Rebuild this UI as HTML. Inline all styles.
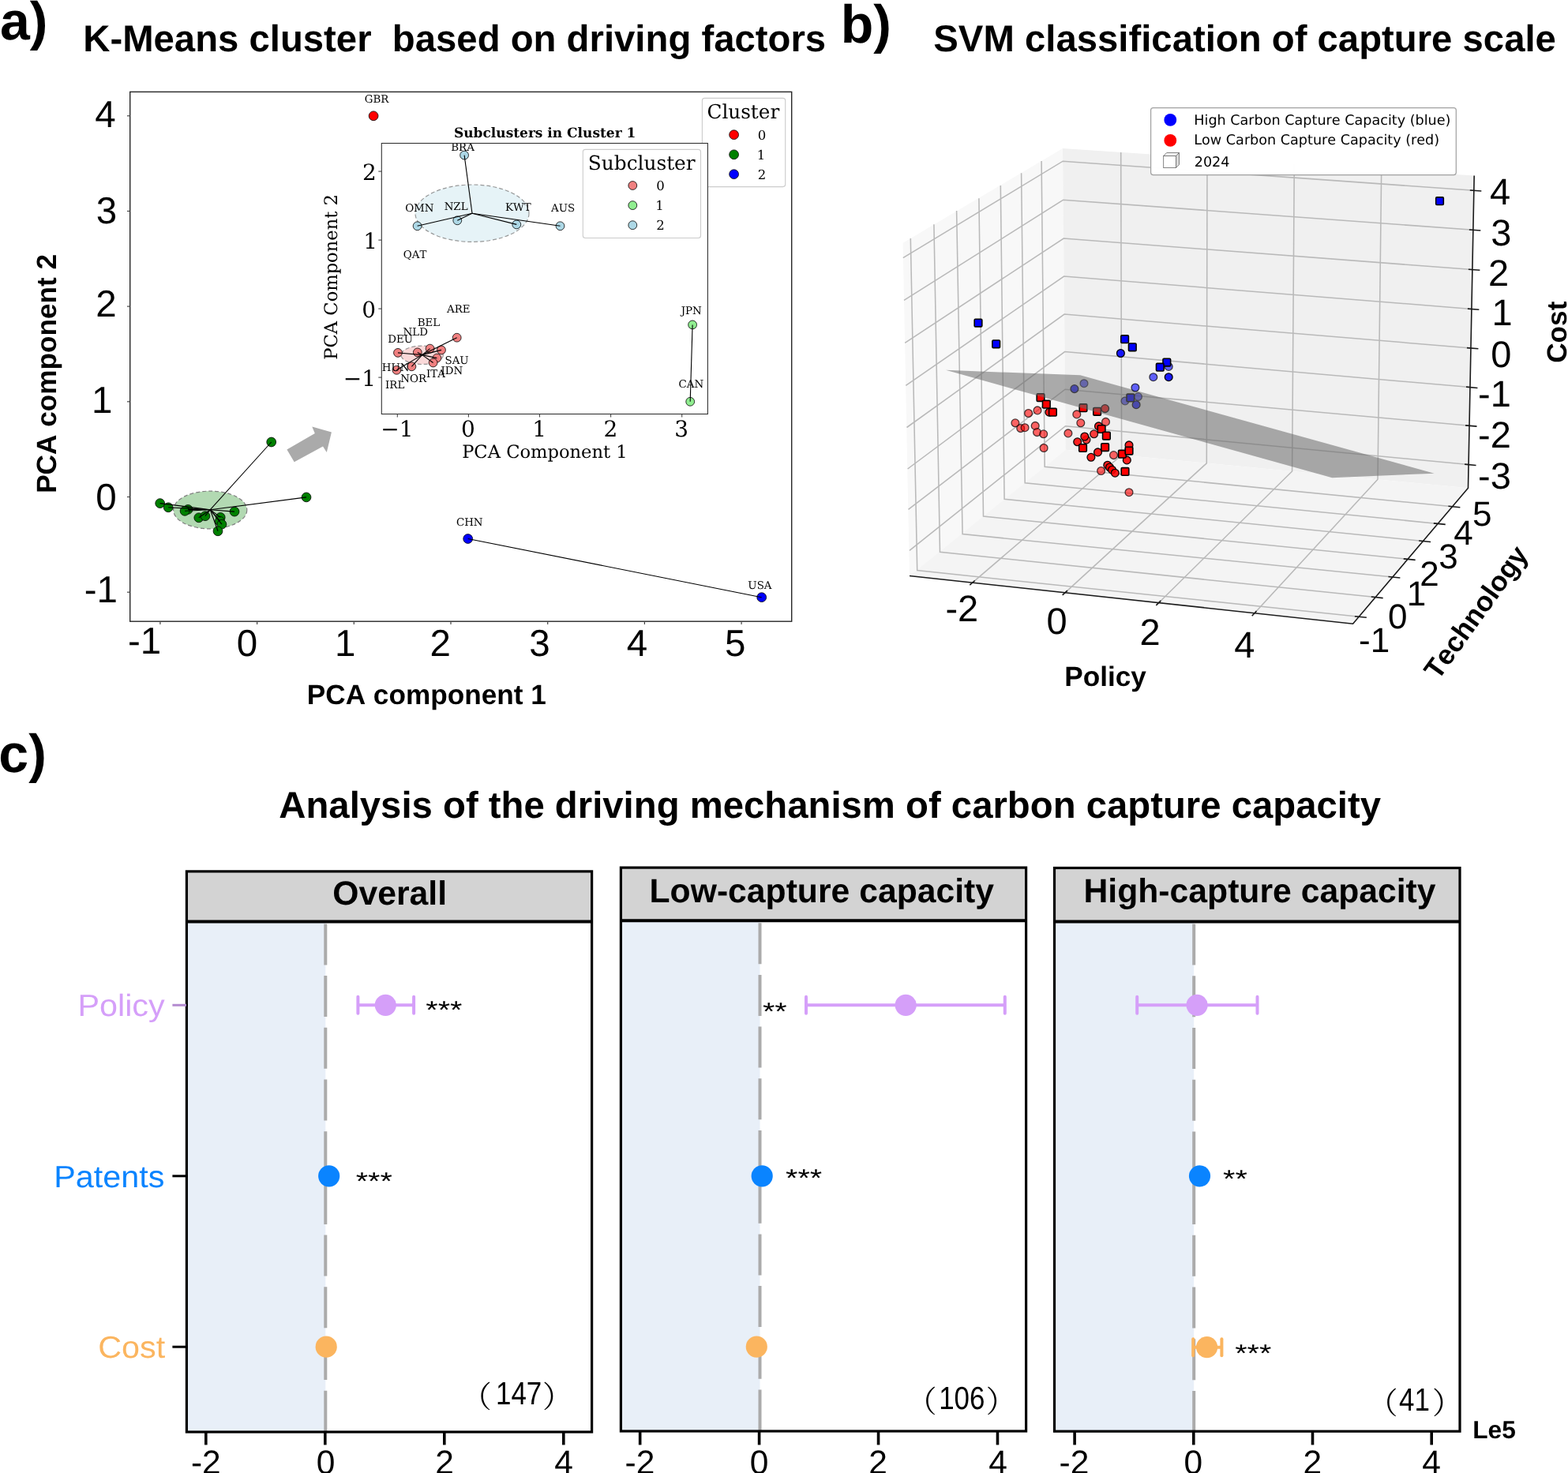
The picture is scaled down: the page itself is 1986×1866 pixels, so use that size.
<!DOCTYPE html>
<html><head><meta charset="utf-8"><title>Figure</title>
<style>html,body{margin:0;padding:0;background:#fff;width:1986px;height:1866px;overflow:hidden}</style>
</head><body>
<svg width="1986" height="1866" viewBox="0 0 1986 1866" style="display:block;font-kerning:none;text-rendering:geometricPrecision">
<rect width="1986" height="1866" fill="#fff"/>
<text x="0.01" y="50" style='font-family:"Liberation Sans", Arial, sans-serif;font-size:68px;font-weight:bold;white-space:pre' fill="#000">a)</text>
<text x="105.24" y="64.9" style='font-family:"Liberation Sans", Arial, sans-serif;font-size:47.3px;font-weight:bold;white-space:pre' fill="#000">K-Means cluster  based on driving factors</text>
<rect x="164.7" y="116.4" width="838.0" height="670.8000000000001" fill="#fff" stroke="none"/>
<ellipse cx="266.2" cy="646" rx="46.6" ry="23.9" fill="#008000" fill-opacity="0.3" stroke="#808080" stroke-width="1.2" stroke-dasharray="5,3"/>
<circle cx="343.7" cy="560" r="5.9" fill="#008000" stroke="#000" stroke-width="0.8"/>
<circle cx="388" cy="629.9" r="5.9" fill="#008000" stroke="#000" stroke-width="0.8"/>
<circle cx="202.7" cy="637.6" r="5.9" fill="#008000" stroke="#000" stroke-width="0.8"/>
<circle cx="213.2" cy="642.8" r="5.9" fill="#008000" stroke="#000" stroke-width="0.8"/>
<circle cx="238.1" cy="645.4" r="5.9" fill="#008000" stroke="#000" stroke-width="0.8"/>
<circle cx="234.1" cy="647.3" r="5.9" fill="#008000" stroke="#000" stroke-width="0.8"/>
<circle cx="251.8" cy="655.8" r="5.9" fill="#008000" stroke="#000" stroke-width="0.8"/>
<circle cx="259.9" cy="653.7" r="5.9" fill="#008000" stroke="#000" stroke-width="0.8"/>
<circle cx="297" cy="648.1" r="5.9" fill="#008000" stroke="#000" stroke-width="0.8"/>
<circle cx="279.2" cy="655.4" r="5.9" fill="#008000" stroke="#000" stroke-width="0.8"/>
<circle cx="278.4" cy="660.2" r="5.9" fill="#008000" stroke="#000" stroke-width="0.8"/>
<circle cx="280.9" cy="664.2" r="5.9" fill="#008000" stroke="#000" stroke-width="0.8"/>
<circle cx="276" cy="672.8" r="5.9" fill="#008000" stroke="#000" stroke-width="0.8"/>
<line x1="266.3" y1="645.7" x2="343.7" y2="560" stroke="#000" stroke-width="1.1"/>
<line x1="266.3" y1="645.7" x2="388" y2="629.9" stroke="#000" stroke-width="1.1"/>
<line x1="266.3" y1="645.7" x2="202.7" y2="637.6" stroke="#000" stroke-width="1.1"/>
<line x1="266.3" y1="645.7" x2="213.2" y2="642.8" stroke="#000" stroke-width="1.1"/>
<line x1="266.3" y1="645.7" x2="238.1" y2="645.4" stroke="#000" stroke-width="1.1"/>
<line x1="266.3" y1="645.7" x2="234.1" y2="647.3" stroke="#000" stroke-width="1.1"/>
<line x1="266.3" y1="645.7" x2="251.8" y2="655.8" stroke="#000" stroke-width="1.1"/>
<line x1="266.3" y1="645.7" x2="259.9" y2="653.7" stroke="#000" stroke-width="1.1"/>
<line x1="266.3" y1="645.7" x2="297" y2="648.1" stroke="#000" stroke-width="1.1"/>
<line x1="266.3" y1="645.7" x2="279.2" y2="655.4" stroke="#000" stroke-width="1.1"/>
<line x1="266.3" y1="645.7" x2="278.4" y2="660.2" stroke="#000" stroke-width="1.1"/>
<line x1="266.3" y1="645.7" x2="280.9" y2="664.2" stroke="#000" stroke-width="1.1"/>
<line x1="266.3" y1="645.7" x2="276" y2="672.8" stroke="#000" stroke-width="1.1"/>
<circle cx="592.7" cy="682.5" r="5.9" fill="#0000ff" stroke="#000" stroke-width="0.8"/>
<circle cx="964.7" cy="756.7" r="5.9" fill="#0000ff" stroke="#000" stroke-width="0.8"/>
<line x1="592.7" y1="682.5" x2="964.7" y2="756.7" stroke="#000" stroke-width="1.1"/>
<circle cx="473.1" cy="146.8" r="5.9" fill="#ff0000" stroke="#000" stroke-width="0.8"/>
<text x="461.75" y="130" style='font-family:"DejaVu Serif", serif;font-size:13.4px;font-weight:normal;white-space:pre' fill="#000">GBR</text>
<text x="577.95" y="666.1" style='font-family:"DejaVu Serif", serif;font-size:13.4px;font-weight:normal;white-space:pre' fill="#000">CHN</text>
<text x="947.37" y="745.6" style='font-family:"DejaVu Serif", serif;font-size:13.4px;font-weight:normal;white-space:pre' fill="#000">USA</text>
<path d="M372.7,585.3 L363.4,569.6 L398.8,549 L395.3,540.6 L419.9,547.4 L413.8,572.9 L409,565.4 Z" fill="#aaaaaa" stroke="none" stroke-width="1"/>
<rect x="164.7" y="116.4" width="838.0" height="670.8000000000001" fill="none" stroke="#262626" stroke-width="1.4"/>
<line x1="161" y1="146.78" x2="164.7" y2="146.78" stroke="#444" stroke-width="1.2"/>
<line x1="161" y1="267.46" x2="164.7" y2="267.46" stroke="#444" stroke-width="1.2"/>
<line x1="161" y1="388.14" x2="164.7" y2="388.14" stroke="#444" stroke-width="1.2"/>
<line x1="161" y1="508.82" x2="164.7" y2="508.82" stroke="#444" stroke-width="1.2"/>
<line x1="161" y1="629.5" x2="164.7" y2="629.5" stroke="#444" stroke-width="1.2"/>
<line x1="161" y1="750.18" x2="164.7" y2="750.18" stroke="#444" stroke-width="1.2"/>
<line x1="202.9" y1="787.2" x2="202.9" y2="791" stroke="#444" stroke-width="1.2"/>
<line x1="325.6" y1="787.2" x2="325.6" y2="791" stroke="#444" stroke-width="1.2"/>
<line x1="448.3" y1="787.2" x2="448.3" y2="791" stroke="#444" stroke-width="1.2"/>
<line x1="571" y1="787.2" x2="571" y2="791" stroke="#444" stroke-width="1.2"/>
<line x1="693.7" y1="787.2" x2="693.7" y2="791" stroke="#444" stroke-width="1.2"/>
<line x1="816.4" y1="787.2" x2="816.4" y2="791" stroke="#444" stroke-width="1.2"/>
<line x1="939.1" y1="787.2" x2="939.1" y2="791" stroke="#444" stroke-width="1.2"/>
<text x="120.27" y="160.88" style='font-family:"Liberation Sans", Arial, sans-serif;font-size:47.5px;font-weight:normal;white-space:pre' fill="#000">4</text>
<text x="121.77" y="283.47" style='font-family:"Liberation Sans", Arial, sans-serif;font-size:47.5px;font-weight:normal;white-space:pre' fill="#000">3</text>
<text x="121.17" y="401.47" style='font-family:"Liberation Sans", Arial, sans-serif;font-size:47.5px;font-weight:normal;white-space:pre' fill="#000">2</text>
<text x="116.1" y="523.08" style='font-family:"Liberation Sans", Arial, sans-serif;font-size:47.5px;font-weight:normal;white-space:pre' fill="#000">1</text>
<text x="121.24" y="645.67" style='font-family:"Liberation Sans", Arial, sans-serif;font-size:47.5px;font-weight:normal;white-space:pre' fill="#000">0</text>
<text x="106.78" y="762.68" style='font-family:"Liberation Sans", Arial, sans-serif;font-size:47.5px;font-weight:normal;white-space:pre' fill="#000">-1</text>
<text x="161.99" y="827.98" style='font-family:"Liberation Sans", Arial, sans-serif;font-size:47.5px;font-weight:normal;white-space:pre' fill="#000">-1</text>
<text x="299.74" y="831.07" style='font-family:"Liberation Sans", Arial, sans-serif;font-size:47.5px;font-weight:normal;white-space:pre' fill="#000">0</text>
<text x="423.98" y="830.58" style='font-family:"Liberation Sans", Arial, sans-serif;font-size:47.5px;font-weight:normal;white-space:pre' fill="#000">1</text>
<text x="544.61" y="831.07" style='font-family:"Liberation Sans", Arial, sans-serif;font-size:47.5px;font-weight:normal;white-space:pre' fill="#000">2</text>
<text x="670.29" y="831.07" style='font-family:"Liberation Sans", Arial, sans-serif;font-size:47.5px;font-weight:normal;white-space:pre' fill="#000">3</text>
<text x="793.81" y="830.58" style='font-family:"Liberation Sans", Arial, sans-serif;font-size:47.5px;font-weight:normal;white-space:pre' fill="#000">4</text>
<text x="918.1" y="830.58" style='font-family:"Liberation Sans", Arial, sans-serif;font-size:47.5px;font-weight:normal;white-space:pre' fill="#000">5</text>
<text x="388.75" y="891.9" style='font-family:"Liberation Sans", Arial, sans-serif;font-size:35.2px;font-weight:bold;white-space:pre' fill="#000">PCA component 1</text>
<text x="0" y="0" text-anchor="start" transform="translate(71.3,624.85) rotate(-90)" style='font-family:"Liberation Sans", Arial, sans-serif;font-size:35.2px;font-weight:bold;white-space:pre' fill="#000">PCA component 2</text>
<rect x="889.4" y="124.4" width="105.3" height="112.2" rx="3" fill="#fff" fill-opacity="0.8" stroke="#cccccc" stroke-width="1.1"/>
<text x="895.51" y="150.1" style='font-family:"DejaVu Serif", serif;font-size:24.7px;font-weight:normal;white-space:pre' fill="#000">Cluster</text>
<circle cx="929.6" cy="170.7" r="5.9" fill="#ff0000" stroke="#000" stroke-width="0.8"/>
<text x="959.71" y="176.71" style='font-family:"DejaVu Serif", serif;font-size:16.5px;font-weight:normal;white-space:pre' fill="#000">0</text>
<circle cx="929.6" cy="195.8" r="5.9" fill="#008000" stroke="#000" stroke-width="0.8"/>
<text x="958.79" y="201.92" style='font-family:"DejaVu Serif", serif;font-size:16.5px;font-weight:normal;white-space:pre' fill="#000">1</text>
<circle cx="929.6" cy="220.7" r="5.9" fill="#0000ff" stroke="#000" stroke-width="0.8"/>
<text x="959.68" y="226.82" style='font-family:"DejaVu Serif", serif;font-size:16.5px;font-weight:normal;white-space:pre' fill="#000">2</text>
<rect x="483.3" y="181.5" width="413.09999999999997" height="343.0" fill="#fff" stroke="none"/>
<ellipse cx="598" cy="270.2" rx="72" ry="36.2" fill="#add8e6" fill-opacity="0.3" stroke="#808080" stroke-opacity="0.8" stroke-width="1.2" stroke-dasharray="5,3"/>
<ellipse cx="534.7" cy="449.8" rx="26.7" ry="11.7" fill="#f08080" fill-opacity="0.3" stroke="#808080" stroke-opacity="0.8" stroke-width="1.2" stroke-dasharray="5,3"/>
<circle cx="504" cy="446.9" r="5.4" fill="#f08080" stroke="#000" stroke-width="0.8"/>
<circle cx="528.8" cy="446.4" r="5.4" fill="#f08080" stroke="#000" stroke-width="0.8"/>
<circle cx="544.6" cy="441.6" r="5.4" fill="#f08080" stroke="#000" stroke-width="0.8"/>
<circle cx="559" cy="443.4" r="5.4" fill="#f08080" stroke="#000" stroke-width="0.8"/>
<circle cx="553.4" cy="453.6" r="5.4" fill="#f08080" stroke="#000" stroke-width="0.8"/>
<circle cx="548.6" cy="459.5" r="5.4" fill="#f08080" stroke="#000" stroke-width="0.8"/>
<circle cx="521.4" cy="464.3" r="5.4" fill="#f08080" stroke="#000" stroke-width="0.8"/>
<circle cx="502.4" cy="468.8" r="5.4" fill="#f08080" stroke="#000" stroke-width="0.8"/>
<circle cx="578.7" cy="427.7" r="5.4" fill="#f08080" stroke="#000" stroke-width="0.8"/>
<circle cx="877.1" cy="411.4" r="5.4" fill="#90ee90" stroke="#000" stroke-width="0.8"/>
<circle cx="874.2" cy="508.8" r="5.4" fill="#90ee90" stroke="#000" stroke-width="0.8"/>
<circle cx="588.1" cy="196.6" r="5.4" fill="#add8e6" stroke="#000" stroke-width="0.8"/>
<circle cx="528.6" cy="286.3" r="5.4" fill="#add8e6" stroke="#000" stroke-width="0.8"/>
<circle cx="579.3" cy="279.3" r="5.4" fill="#add8e6" stroke="#000" stroke-width="0.8"/>
<circle cx="654.3" cy="284.4" r="5.4" fill="#add8e6" stroke="#000" stroke-width="0.8"/>
<circle cx="709.5" cy="286.3" r="5.4" fill="#add8e6" stroke="#000" stroke-width="0.8"/>
<line x1="598" y1="270.2" x2="588.1" y2="196.6" stroke="#000" stroke-width="1.1"/>
<line x1="598" y1="270.2" x2="528.6" y2="286.3" stroke="#000" stroke-width="1.1"/>
<line x1="598" y1="270.2" x2="579.3" y2="279.3" stroke="#000" stroke-width="1.1"/>
<line x1="598" y1="270.2" x2="654.3" y2="284.4" stroke="#000" stroke-width="1.1"/>
<line x1="598" y1="270.2" x2="709.5" y2="286.3" stroke="#000" stroke-width="1.1"/>
<line x1="534.7" y1="449.6" x2="504" y2="446.9" stroke="#000" stroke-width="1.1"/>
<line x1="534.7" y1="449.6" x2="528.8" y2="446.4" stroke="#000" stroke-width="1.1"/>
<line x1="534.7" y1="449.6" x2="544.6" y2="441.6" stroke="#000" stroke-width="1.1"/>
<line x1="534.7" y1="449.6" x2="559" y2="443.4" stroke="#000" stroke-width="1.1"/>
<line x1="534.7" y1="449.6" x2="553.4" y2="453.6" stroke="#000" stroke-width="1.1"/>
<line x1="534.7" y1="449.6" x2="548.6" y2="459.5" stroke="#000" stroke-width="1.1"/>
<line x1="534.7" y1="449.6" x2="521.4" y2="464.3" stroke="#000" stroke-width="1.1"/>
<line x1="534.7" y1="449.6" x2="502.4" y2="468.8" stroke="#000" stroke-width="1.1"/>
<line x1="534.7" y1="449.6" x2="578.7" y2="427.7" stroke="#000" stroke-width="1.1"/>
<line x1="877.1" y1="411.4" x2="874.2" y2="508.8" stroke="#000" stroke-width="1.1"/>
<text x="571.26" y="190.7" style='font-family:"DejaVu Serif", serif;font-size:13.4px;font-weight:normal;white-space:pre' fill="#000">BRA</text>
<text x="513.15" y="268.1" style='font-family:"DejaVu Serif", serif;font-size:13.4px;font-weight:normal;white-space:pre' fill="#000">OMN</text>
<text x="562.65" y="266" style='font-family:"DejaVu Serif", serif;font-size:13.4px;font-weight:normal;white-space:pre' fill="#000">NZL</text>
<text x="639.96" y="266.8" style='font-family:"DejaVu Serif", serif;font-size:13.4px;font-weight:normal;white-space:pre' fill="#000">KWT</text>
<text x="698.08" y="267.6" style='font-family:"DejaVu Serif", serif;font-size:13.4px;font-weight:normal;white-space:pre' fill="#000">AUS</text>
<text x="510.75" y="326.8" style='font-family:"DejaVu Serif", serif;font-size:13.4px;font-weight:normal;white-space:pre' fill="#000">QAT</text>
<text x="566.08" y="396.2" style='font-family:"DejaVu Serif", serif;font-size:13.4px;font-weight:normal;white-space:pre' fill="#000">ARE</text>
<text x="528.66" y="412.8" style='font-family:"DejaVu Serif", serif;font-size:13.4px;font-weight:normal;white-space:pre' fill="#000">BEL</text>
<text x="510.55" y="424.8" style='font-family:"DejaVu Serif", serif;font-size:13.4px;font-weight:normal;white-space:pre' fill="#000">NLD</text>
<text x="491.26" y="434.1" style='font-family:"DejaVu Serif", serif;font-size:13.4px;font-weight:normal;white-space:pre' fill="#000">DEU</text>
<text x="563.47" y="460.8" style='font-family:"DejaVu Serif", serif;font-size:13.4px;font-weight:normal;white-space:pre' fill="#000">SAU</text>
<text x="483.76" y="470.1" style='font-family:"DejaVu Serif", serif;font-size:13.4px;font-weight:normal;white-space:pre' fill="#000">HUN</text>
<text x="558.56" y="474.1" style='font-family:"DejaVu Serif", serif;font-size:13.4px;font-weight:normal;white-space:pre' fill="#000">IDN</text>
<text x="540.06" y="477.6" style='font-family:"DejaVu Serif", serif;font-size:13.4px;font-weight:normal;white-space:pre' fill="#000">ITA</text>
<text x="507.35" y="483.7" style='font-family:"DejaVu Serif", serif;font-size:13.4px;font-weight:normal;white-space:pre' fill="#000">NOR</text>
<text x="488.06" y="491.7" style='font-family:"DejaVu Serif", serif;font-size:13.4px;font-weight:normal;white-space:pre' fill="#000">IRL</text>
<text x="862.73" y="397.5" style='font-family:"DejaVu Serif", serif;font-size:13.4px;font-weight:normal;white-space:pre' fill="#000">JPN</text>
<text x="859.55" y="491" style='font-family:"DejaVu Serif", serif;font-size:13.4px;font-weight:normal;white-space:pre' fill="#000">CAN</text>
<rect x="483.3" y="181.5" width="413.09999999999997" height="343.0" fill="none" stroke="#333" stroke-width="1.1"/>
<line x1="503.3" y1="524.5" x2="503.3" y2="528.5" stroke="#444" stroke-width="1.1"/>
<text x="482.37" y="553.08" style='font-family:"DejaVu Serif", serif;font-size:28px;font-weight:normal;white-space:pre' fill="#000">−1</text>
<line x1="593.4" y1="524.5" x2="593.4" y2="528.5" stroke="#444" stroke-width="1.1"/>
<text x="584" y="553.08" style='font-family:"DejaVu Serif", serif;font-size:28px;font-weight:normal;white-space:pre' fill="#000">0</text>
<line x1="683.5" y1="524.5" x2="683.5" y2="528.5" stroke="#444" stroke-width="1.1"/>
<text x="674.37" y="553.08" style='font-family:"DejaVu Serif", serif;font-size:28px;font-weight:normal;white-space:pre' fill="#000">1</text>
<line x1="773.6" y1="524.5" x2="773.6" y2="528.5" stroke="#444" stroke-width="1.1"/>
<text x="764.62" y="553.08" style='font-family:"DejaVu Serif", serif;font-size:28px;font-weight:normal;white-space:pre' fill="#000">2</text>
<line x1="863.7" y1="524.5" x2="863.7" y2="528.5" stroke="#444" stroke-width="1.1"/>
<text x="854.27" y="553.08" style='font-family:"DejaVu Serif", serif;font-size:28px;font-weight:normal;white-space:pre' fill="#000">3</text>
<line x1="479.3" y1="217.1" x2="483.3" y2="217.1" stroke="#444" stroke-width="1.1"/>
<text x="459.03" y="228.09" style='font-family:"DejaVu Serif", serif;font-size:28px;font-weight:normal;white-space:pre' fill="#000">2</text>
<line x1="479.3" y1="304.1" x2="483.3" y2="304.1" stroke="#444" stroke-width="1.1"/>
<text x="460.26" y="315.09" style='font-family:"DejaVu Serif", serif;font-size:28px;font-weight:normal;white-space:pre' fill="#000">1</text>
<line x1="479.3" y1="391.1" x2="483.3" y2="391.1" stroke="#444" stroke-width="1.1"/>
<text x="458.14" y="401.89" style='font-family:"DejaVu Serif", serif;font-size:28px;font-weight:normal;white-space:pre' fill="#000">0</text>
<line x1="479.3" y1="478.1" x2="483.3" y2="478.1" stroke="#444" stroke-width="1.1"/>
<text x="434.7" y="489.09" style='font-family:"DejaVu Serif", serif;font-size:28px;font-weight:normal;white-space:pre' fill="#000">−1</text>
<text x="585.15" y="580.2" style='font-family:"DejaVu Serif", serif;font-size:22.6px;font-weight:normal;white-space:pre' fill="#000">PCA Component 1</text>
<text x="0" y="0" text-anchor="start" transform="translate(426.8,455.65) rotate(-90)" style='font-family:"DejaVu Serif", serif;font-size:22.6px;font-weight:normal;white-space:pre' fill="#000">PCA Component 2</text>
<text x="574.98" y="174.2" style='font-family:"DejaVu Serif", serif;font-size:17px;font-weight:bold;white-space:pre' fill="#000">Subclusters in Cluster 1</text>
<rect x="738.3" y="189.4" width="149.2" height="112.1" rx="3" fill="#fff" fill-opacity="0.8" stroke="#cccccc" stroke-width="1.1"/>
<text x="744.82" y="214.7" style='font-family:"DejaVu Serif", serif;font-size:24.8px;font-weight:normal;white-space:pre' fill="#000">Subcluster</text>
<circle cx="801.3" cy="235" r="5.4" fill="#f08080" stroke="#000" stroke-width="0.8"/>
<text x="831.21" y="241.01" style='font-family:"DejaVu Serif", serif;font-size:16.5px;font-weight:normal;white-space:pre' fill="#000">0</text>
<circle cx="801.3" cy="260.1" r="5.4" fill="#90ee90" stroke="#000" stroke-width="0.8"/>
<text x="830.29" y="266.22" style='font-family:"DejaVu Serif", serif;font-size:16.5px;font-weight:normal;white-space:pre' fill="#000">1</text>
<circle cx="801.3" cy="285.2" r="5.4" fill="#add8e6" stroke="#000" stroke-width="0.8"/>
<text x="831.18" y="291.32" style='font-family:"DejaVu Serif", serif;font-size:16.5px;font-weight:normal;white-space:pre' fill="#000">2</text>
<text x="1064.72" y="53.8" style='font-family:"Liberation Sans", Arial, sans-serif;font-size:68px;font-weight:bold;white-space:pre' fill="#000">b)</text>
<text x="1182.34" y="65.3" style='font-family:"Liberation Sans", Arial, sans-serif;font-size:47.3px;font-weight:bold;white-space:pre' fill="#000">SVM classification of capture scale</text>
<path d="M1143.6,307.7 L1346,188 L1349.8,569.8 L1152,729.5 Z" fill="#f8f8f8" stroke="none" stroke-width="1"/>
<path d="M1346,188 L1867.2,222.4 L1859.5,618.2 L1349.8,569.8 Z" fill="#f0f0f0" stroke="none" stroke-width="1"/>
<path d="M1152,729.5 L1349.8,569.8 L1859.5,618.2 L1713.6,790.2 Z" fill="#f4f4f4" stroke="none" stroke-width="1"/>
<g fill="none"><path d="M1153.3,302 L1161.7,722.6 L1721.4,781.3" fill="none" stroke="#b9b9b9" stroke-width="1.55" stroke-linejoin="miter"/><path d="M1182.9,284.2 L1190.5,699.3 L1742.2,756.6" fill="none" stroke="#b9b9b9" stroke-width="1.55" stroke-linejoin="miter"/><path d="M1211.6,267.1 L1219.1,676.6 L1763.9,731" fill="none" stroke="#b9b9b9" stroke-width="1.55" stroke-linejoin="miter"/><path d="M1239.9,251.3 L1245.5,654 L1783.2,708.4" fill="none" stroke="#b9b9b9" stroke-width="1.55" stroke-linejoin="miter"/><path d="M1267.3,235.1 L1272.1,632.2 L1802.6,685.5" fill="none" stroke="#b9b9b9" stroke-width="1.55" stroke-linejoin="miter"/><path d="M1293.6,219.2 L1298.2,611.7 L1821.3,663.4" fill="none" stroke="#b9b9b9" stroke-width="1.55" stroke-linejoin="miter"/><path d="M1319.1,204 L1323.2,591.2 L1839.9,641.8" fill="none" stroke="#b9b9b9" stroke-width="1.55" stroke-linejoin="miter"/><path d="M1143.8,326.6 L1346.2,204.2 L1866.83,241.3" fill="none" stroke="#b9b9b9" stroke-width="1.55"/><path d="M1145,380.4 L1346.7,253.2 L1865.86,291.3" fill="none" stroke="#b9b9b9" stroke-width="1.55"/><path d="M1146.2,434.3 L1347.2,302 L1864.88,341.6" fill="none" stroke="#b9b9b9" stroke-width="1.55"/><path d="M1147.3,488.3 L1347.6,350 L1863.91,391.5" fill="none" stroke="#b9b9b9" stroke-width="1.55"/><path d="M1148.5,541.5 L1348.1,398.1 L1862.95,441" fill="none" stroke="#b9b9b9" stroke-width="1.55"/><path d="M1149.6,594 L1348.6,445.6 L1861.98,490.6" fill="none" stroke="#b9b9b9" stroke-width="1.55"/><path d="M1150.5,645.3 L1349.1,493.2 L1861.03,539.3" fill="none" stroke="#b9b9b9" stroke-width="1.55"/><path d="M1152,697.4 L1349.5,539.7 L1860.08,588.6" fill="none" stroke="#b9b9b9" stroke-width="1.55"/><path d="M1419.7,192.9 L1420.6,576.5 L1231.7,738.1" fill="none" stroke="#b9b9b9" stroke-width="1.55"/><path d="M1529,200.1 L1528.3,586.8 L1349,750.9" fill="none" stroke="#b9b9b9" stroke-width="1.55"/><path d="M1639.3,207.4 L1636.6,597 L1467.5,763.7" fill="none" stroke="#b9b9b9" stroke-width="1.55"/><path d="M1749.7,214.6 L1745,607.3 L1588.8,776.9" fill="none" stroke="#b9b9b9" stroke-width="1.55"/></g>
<circle cx="1399.6" cy="517.6" r="4.9" fill="#ff0000" fill-opacity="0.9" stroke="#000" stroke-opacity="1" stroke-width="1.3"/>
<rect x="1313.2" y="498.8" width="9.6" height="9.6" rx="1.2" fill="#ff0000" fill-opacity="1" stroke="#000" stroke-opacity="1" stroke-width="1.6"/>
<rect x="1367.2" y="511.9" width="9.6" height="9.6" rx="1.2" fill="#ff0000" fill-opacity="1" stroke="#000" stroke-opacity="1" stroke-width="1.6"/>
<rect x="1384.8" y="516.5" width="9.6" height="9.6" rx="1.2" fill="#ff0000" fill-opacity="1" stroke="#000" stroke-opacity="1" stroke-width="1.6"/>
<circle cx="1373" cy="485.7" r="4.9" fill="#0000ff" fill-opacity="0.6" stroke="#000" stroke-opacity="0.7" stroke-width="1.3"/>
<circle cx="1360.9" cy="492.6" r="4.9" fill="#0000ff" fill-opacity="0.85" stroke="#000" stroke-opacity="0.95" stroke-width="1.3"/>
<circle cx="1441.5" cy="502.6" r="4.9" fill="#0000ff" fill-opacity="0.6" stroke="#000" stroke-opacity="0.7" stroke-width="1.3"/>
<circle cx="1425" cy="507.9" r="4.9" fill="#0000ff" fill-opacity="0.6" stroke="#000" stroke-opacity="0.7" stroke-width="1.3"/>
<circle cx="1439.1" cy="512.7" r="4.9" fill="#0000ff" fill-opacity="0.85" stroke="#000" stroke-opacity="0.95" stroke-width="1.3"/>
<rect x="1427" y="499.1" width="9.6" height="9.6" rx="1.2" fill="#0000ff" fill-opacity="1" stroke="#000" stroke-opacity="1" stroke-width="1.6"/>
<path d="M1198,468.8 L1368.2,475.3 L1816.6,599.7 L1687.3,605.3 Z" fill="#6a6a6a" stroke="none" stroke-width="1" fill-opacity="0.55"/>
<circle cx="1302.6" cy="523.5" r="4.9" fill="#ff0000" fill-opacity="0.6" stroke="#000" stroke-opacity="0.7" stroke-width="1.3"/>
<circle cx="1314" cy="519.9" r="4.9" fill="#ff0000" fill-opacity="0.6" stroke="#000" stroke-opacity="0.7" stroke-width="1.3"/>
<circle cx="1285.9" cy="535.8" r="4.9" fill="#ff0000" fill-opacity="0.6" stroke="#000" stroke-opacity="0.7" stroke-width="1.3"/>
<circle cx="1292.7" cy="542.6" r="4.9" fill="#ff0000" fill-opacity="0.6" stroke="#000" stroke-opacity="0.7" stroke-width="1.3"/>
<circle cx="1298.1" cy="541.7" r="4.9" fill="#ff0000" fill-opacity="0.6" stroke="#000" stroke-opacity="0.7" stroke-width="1.3"/>
<circle cx="1311.2" cy="539.4" r="4.9" fill="#ff0000" fill-opacity="0.6" stroke="#000" stroke-opacity="0.7" stroke-width="1.3"/>
<circle cx="1313.5" cy="547.6" r="4.9" fill="#ff0000" fill-opacity="0.6" stroke="#000" stroke-opacity="0.7" stroke-width="1.3"/>
<circle cx="1321.7" cy="549.8" r="4.9" fill="#ff0000" fill-opacity="0.6" stroke="#000" stroke-opacity="0.7" stroke-width="1.3"/>
<circle cx="1322.1" cy="567.5" r="4.9" fill="#ff0000" fill-opacity="0.6" stroke="#000" stroke-opacity="0.7" stroke-width="1.3"/>
<circle cx="1363.8" cy="524.9" r="4.9" fill="#ff0000" fill-opacity="0.6" stroke="#000" stroke-opacity="0.7" stroke-width="1.3"/>
<circle cx="1368.8" cy="535.8" r="4.9" fill="#ff0000" fill-opacity="0.6" stroke="#000" stroke-opacity="0.7" stroke-width="1.3"/>
<circle cx="1400.5" cy="534.4" r="4.9" fill="#ff0000" fill-opacity="0.6" stroke="#000" stroke-opacity="0.7" stroke-width="1.3"/>
<circle cx="1352.9" cy="548.9" r="4.9" fill="#ff0000" fill-opacity="0.6" stroke="#000" stroke-opacity="0.7" stroke-width="1.3"/>
<circle cx="1410.5" cy="576.6" r="4.9" fill="#ff0000" fill-opacity="0.6" stroke="#000" stroke-opacity="0.7" stroke-width="1.3"/>
<circle cx="1394.6" cy="596.5" r="4.9" fill="#ff0000" fill-opacity="0.6" stroke="#000" stroke-opacity="0.7" stroke-width="1.3"/>
<circle cx="1430" cy="623.7" r="4.9" fill="#ff0000" fill-opacity="0.6" stroke="#000" stroke-opacity="0.7" stroke-width="1.3"/>
<circle cx="1376" cy="557.1" r="4.9" fill="#ff0000" fill-opacity="0.75" stroke="#000" stroke-opacity="0.85" stroke-width="1.3"/>
<circle cx="1385.6" cy="549.8" r="4.9" fill="#ff0000" fill-opacity="0.75" stroke="#000" stroke-opacity="0.85" stroke-width="1.3"/>
<circle cx="1328.9" cy="522.2" r="4.9" fill="#ff0000" fill-opacity="0.9" stroke="#000" stroke-opacity="1" stroke-width="1.3"/>
<circle cx="1391.5" cy="539.9" r="4.9" fill="#ff0000" fill-opacity="0.88" stroke="#000" stroke-opacity="0.98" stroke-width="1.3"/>
<circle cx="1373.8" cy="553" r="4.9" fill="#ff0000" fill-opacity="0.88" stroke="#000" stroke-opacity="0.98" stroke-width="1.3"/>
<circle cx="1364.7" cy="559.8" r="4.9" fill="#ff0000" fill-opacity="0.88" stroke="#000" stroke-opacity="0.98" stroke-width="1.3"/>
<circle cx="1390.5" cy="572.9" r="4.9" fill="#ff0000" fill-opacity="0.88" stroke="#000" stroke-opacity="0.98" stroke-width="1.3"/>
<circle cx="1381.9" cy="579.3" r="4.9" fill="#ff0000" fill-opacity="0.88" stroke="#000" stroke-opacity="0.98" stroke-width="1.3"/>
<circle cx="1430" cy="563.9" r="4.9" fill="#ff0000" fill-opacity="0.88" stroke="#000" stroke-opacity="0.98" stroke-width="1.3"/>
<circle cx="1427.3" cy="582.9" r="4.9" fill="#ff0000" fill-opacity="0.88" stroke="#000" stroke-opacity="0.98" stroke-width="1.3"/>
<circle cx="1402.8" cy="589.2" r="4.9" fill="#ff0000" fill-opacity="0.88" stroke="#000" stroke-opacity="0.98" stroke-width="1.3"/>
<circle cx="1405.5" cy="592" r="4.9" fill="#ff0000" fill-opacity="0.88" stroke="#000" stroke-opacity="0.98" stroke-width="1.3"/>
<circle cx="1408.5" cy="595.2" r="4.9" fill="#ff0000" fill-opacity="0.88" stroke="#000" stroke-opacity="0.98" stroke-width="1.3"/>
<circle cx="1412.3" cy="599.2" r="4.9" fill="#ff0000" fill-opacity="0.88" stroke="#000" stroke-opacity="0.98" stroke-width="1.3"/>
<rect x="1320.5" y="507.4" width="9.6" height="9.6" rx="1.2" fill="#ff0000" fill-opacity="1" stroke="#000" stroke-opacity="1" stroke-width="1.6"/>
<rect x="1328.6" y="517.4" width="9.6" height="9.6" rx="1.2" fill="#ff0000" fill-opacity="1" stroke="#000" stroke-opacity="1" stroke-width="1.6"/>
<rect x="1390.3" y="538.7" width="9.6" height="9.6" rx="1.2" fill="#ff0000" fill-opacity="1" stroke="#000" stroke-opacity="1" stroke-width="1.6"/>
<rect x="1396.6" y="547.3" width="9.6" height="9.6" rx="1.2" fill="#ff0000" fill-opacity="1" stroke="#000" stroke-opacity="1" stroke-width="1.6"/>
<rect x="1394.8" y="561.8" width="9.6" height="9.6" rx="1.2" fill="#ff0000" fill-opacity="1" stroke="#000" stroke-opacity="1" stroke-width="1.6"/>
<rect x="1366.7" y="562.7" width="9.6" height="9.6" rx="1.2" fill="#ff0000" fill-opacity="1" stroke="#000" stroke-opacity="1" stroke-width="1.6"/>
<rect x="1416.6" y="570.4" width="9.6" height="9.6" rx="1.2" fill="#ff0000" fill-opacity="1" stroke="#000" stroke-opacity="1" stroke-width="1.6"/>
<rect x="1425.2" y="566.3" width="9.6" height="9.6" rx="1.2" fill="#ff0000" fill-opacity="1" stroke="#000" stroke-opacity="1" stroke-width="1.6"/>
<rect x="1420.2" y="592.6" width="9.6" height="9.6" rx="1.2" fill="#ff0000" fill-opacity="1" stroke="#000" stroke-opacity="1" stroke-width="1.6"/>
<circle cx="1480.2" cy="464.4" r="4.9" fill="#0000ff" fill-opacity="0.6" stroke="#000" stroke-opacity="0.7" stroke-width="1.3"/>
<circle cx="1460.8" cy="477.7" r="4.9" fill="#0000ff" fill-opacity="0.6" stroke="#000" stroke-opacity="0.7" stroke-width="1.3"/>
<circle cx="1437.9" cy="491" r="4.9" fill="#0000ff" fill-opacity="0.6" stroke="#000" stroke-opacity="0.7" stroke-width="1.3"/>
<circle cx="1419.4" cy="447.5" r="4.9" fill="#0000ff" fill-opacity="0.9" stroke="#000" stroke-opacity="1" stroke-width="1.3"/>
<circle cx="1480.2" cy="477.7" r="4.9" fill="#0000ff" fill-opacity="0.9" stroke="#000" stroke-opacity="1" stroke-width="1.3"/>
<rect x="1234.2" y="404.3" width="9.6" height="9.6" rx="1.2" fill="#0000ff" fill-opacity="1" stroke="#000" stroke-opacity="1" stroke-width="1.6"/>
<rect x="1256.9" y="431" width="9.6" height="9.6" rx="1.2" fill="#0000ff" fill-opacity="1" stroke="#000" stroke-opacity="1" stroke-width="1.6"/>
<rect x="1818.7" y="249.9" width="9.6" height="9.6" rx="1.2" fill="#0000ff" fill-opacity="1" stroke="#000" stroke-opacity="1" stroke-width="1.6"/>
<rect x="1419.8" y="424.9" width="9.6" height="9.6" rx="1.2" fill="#0000ff" fill-opacity="1" stroke="#000" stroke-opacity="1" stroke-width="1.6"/>
<rect x="1429.5" y="435" width="9.6" height="9.6" rx="1.2" fill="#0000ff" fill-opacity="1" stroke="#000" stroke-opacity="1" stroke-width="1.6"/>
<rect x="1473" y="454.3" width="9.6" height="9.6" rx="1.2" fill="#0000ff" fill-opacity="1" stroke="#000" stroke-opacity="1" stroke-width="1.6"/>
<rect x="1464.5" y="460.4" width="9.6" height="9.6" rx="1.2" fill="#0000ff" fill-opacity="1" stroke="#000" stroke-opacity="1" stroke-width="1.6"/>
<path d="M1152,729.5 L1713.6,790.2 L1859.5,618.2 L1867.2,222.4" fill="none" stroke="#1a1a1a" stroke-width="1.6" stroke-linejoin="miter"/>
<line x1="1715.93" y1="780.73" x2="1730.85" y2="782.29" stroke="#1a1a1a" stroke-width="1.6"/>
<line x1="1736.73" y1="756.03" x2="1751.65" y2="757.58" stroke="#1a1a1a" stroke-width="1.6"/>
<line x1="1758.43" y1="730.45" x2="1773.35" y2="731.94" stroke="#1a1a1a" stroke-width="1.6"/>
<line x1="1777.73" y1="707.85" x2="1792.65" y2="709.36" stroke="#1a1a1a" stroke-width="1.6"/>
<line x1="1797.13" y1="684.95" x2="1812.05" y2="686.45" stroke="#1a1a1a" stroke-width="1.6"/>
<line x1="1815.83" y1="662.86" x2="1830.75" y2="664.33" stroke="#1a1a1a" stroke-width="1.6"/>
<line x1="1834.43" y1="641.26" x2="1849.35" y2="642.73" stroke="#1a1a1a" stroke-width="1.6"/>
<line x1="1861.84" y1="240.94" x2="1876.31" y2="241.98" stroke="#1a1a1a" stroke-width="1.6"/>
<line x1="1860.87" y1="290.93" x2="1875.33" y2="292" stroke="#1a1a1a" stroke-width="1.6"/>
<line x1="1859.9" y1="341.22" x2="1874.35" y2="342.32" stroke="#1a1a1a" stroke-width="1.6"/>
<line x1="1858.93" y1="391.1" x2="1873.38" y2="392.26" stroke="#1a1a1a" stroke-width="1.6"/>
<line x1="1857.96" y1="440.58" x2="1872.41" y2="441.79" stroke="#1a1a1a" stroke-width="1.6"/>
<line x1="1857" y1="490.16" x2="1871.45" y2="491.43" stroke="#1a1a1a" stroke-width="1.6"/>
<line x1="1856.06" y1="538.85" x2="1870.5" y2="540.15" stroke="#1a1a1a" stroke-width="1.6"/>
<line x1="1855.1" y1="588.12" x2="1869.53" y2="589.51" stroke="#1a1a1a" stroke-width="1.6"/>
<line x1="1234.74" y1="735.5" x2="1228.28" y2="741.03" stroke="#1a1a1a" stroke-width="1.6"/>
<line x1="1351.95" y1="748.2" x2="1345.68" y2="753.94" stroke="#1a1a1a" stroke-width="1.6"/>
<line x1="1470.35" y1="760.89" x2="1464.3" y2="766.86" stroke="#1a1a1a" stroke-width="1.6"/>
<line x1="1591.51" y1="773.96" x2="1585.75" y2="780.21" stroke="#1a1a1a" stroke-width="1.6"/>
<text x="1887.02" y="258.54" style='font-family:"Liberation Sans", Arial, sans-serif;font-size:47px;font-weight:normal;white-space:pre' fill="#000">4</text>
<text x="1888.21" y="310.92" style='font-family:"Liberation Sans", Arial, sans-serif;font-size:47px;font-weight:normal;white-space:pre' fill="#000">3</text>
<text x="1884.94" y="361.62" style='font-family:"Liberation Sans", Arial, sans-serif;font-size:47px;font-weight:normal;white-space:pre' fill="#000">2</text>
<text x="1889.42" y="412.24" style='font-family:"Liberation Sans", Arial, sans-serif;font-size:47px;font-weight:normal;white-space:pre' fill="#000">1</text>
<text x="1888.26" y="464.52" style='font-family:"Liberation Sans", Arial, sans-serif;font-size:47px;font-weight:normal;white-space:pre' fill="#000">0</text>
<text x="1872.11" y="515.24" style='font-family:"Liberation Sans", Arial, sans-serif;font-size:47px;font-weight:normal;white-space:pre' fill="#000">-1</text>
<text x="1872.11" y="566.72" style='font-family:"Liberation Sans", Arial, sans-serif;font-size:47px;font-weight:normal;white-space:pre' fill="#000">-2</text>
<text x="1872.11" y="618.62" style='font-family:"Liberation Sans", Arial, sans-serif;font-size:47px;font-weight:normal;white-space:pre' fill="#000">-3</text>
<text x="1721.04" y="826.37" style='font-family:"Liberation Sans", Arial, sans-serif;font-size:44px;font-weight:normal;white-space:pre' fill="#000">-1</text>
<text x="1757.98" y="795.72" style='font-family:"Liberation Sans", Arial, sans-serif;font-size:44px;font-weight:normal;white-space:pre' fill="#000">0</text>
<text x="1781.75" y="767.27" style='font-family:"Liberation Sans", Arial, sans-serif;font-size:44px;font-weight:normal;white-space:pre' fill="#000">1</text>
<text x="1798.29" y="742.22" style='font-family:"Liberation Sans", Arial, sans-serif;font-size:44px;font-weight:normal;white-space:pre' fill="#000">2</text>
<text x="1822.22" y="719.62" style='font-family:"Liberation Sans", Arial, sans-serif;font-size:44px;font-weight:normal;white-space:pre' fill="#000">3</text>
<text x="1841.19" y="689.77" style='font-family:"Liberation Sans", Arial, sans-serif;font-size:44px;font-weight:normal;white-space:pre' fill="#000">4</text>
<text x="1865.04" y="665.67" style='font-family:"Liberation Sans", Arial, sans-serif;font-size:44px;font-weight:normal;white-space:pre' fill="#000">5</text>
<text x="1197.41" y="787.22" style='font-family:"Liberation Sans", Arial, sans-serif;font-size:47px;font-weight:normal;white-space:pre' fill="#000">-2</text>
<text x="1325.46" y="802.72" style='font-family:"Liberation Sans", Arial, sans-serif;font-size:47px;font-weight:normal;white-space:pre' fill="#000">0</text>
<text x="1443.54" y="817.12" style='font-family:"Liberation Sans", Arial, sans-serif;font-size:47px;font-weight:normal;white-space:pre' fill="#000">2</text>
<text x="1563.32" y="833.24" style='font-family:"Liberation Sans", Arial, sans-serif;font-size:47px;font-weight:normal;white-space:pre' fill="#000">4</text>
<text x="1348.25" y="868.5" style='font-family:"Liberation Sans", Arial, sans-serif;font-size:35.2px;font-weight:bold;white-space:pre' fill="#000">Policy</text>
<text x="-98.86" y="9.02" transform="translate(1871.8,777.3) rotate(-54.3)" style='font-family:"Liberation Sans", Arial, sans-serif;font-size:35.2px;font-weight:bold' fill="#000">Technology</text>
<text x="0" y="0" text-anchor="start" transform="translate(1984.1,459.84) rotate(-90)" style='font-family:"Liberation Sans", Arial, sans-serif;font-size:35.2px;font-weight:bold;white-space:pre' fill="#000">Cost</text>
<rect x="1457.6" y="136.6" width="386.7" height="85" rx="3" fill="#fff" fill-opacity="0.98" stroke="#a0a0a0" stroke-width="1.2"/>
<circle cx="1482.3" cy="151.9" r="7.9" fill="#0000ff" stroke="none" stroke-width="0"/>
<circle cx="1482.3" cy="177.9" r="7.9" fill="#ff0000" stroke="none" stroke-width="0"/>
<path d="M1473.7,197.5 L1477.7,193.5 L1493.5,193.5 L1489.5,197.5 Z" fill="#f4f4f4" stroke="#666" stroke-width="0.8"/>
<path d="M1489.5,197.5 L1493.5,193.5 L1493.5,208.6 L1489.5,212.6 Z" fill="#d8d8d8" stroke="#666" stroke-width="0.8"/>
<rect x="1473.7" y="197.5" width="15.8" height="15.1" fill="#fff" stroke="#666" stroke-width="0.8"/>
<text x="1512.27" y="157.8" style='font-family:"DejaVu Sans", sans-serif;font-size:17.6px;font-weight:normal;white-space:pre' fill="#000">High Carbon Capture Capacity (blue)</text>
<text x="1512.27" y="183.2" style='font-family:"DejaVu Sans", sans-serif;font-size:17.6px;font-weight:normal;white-space:pre' fill="#000">Low Carbon Capture Capacity (red)</text>
<text x="1512.71" y="210.6" style='font-family:"DejaVu Sans", sans-serif;font-size:17.6px;font-weight:normal;white-space:pre' fill="#000">2024</text>
<text x="-1.66" y="978" style='font-family:"Liberation Sans", Arial, sans-serif;font-size:68px;font-weight:bold;white-space:pre' fill="#000">c)</text>
<text x="353.32" y="1036" style='font-family:"Liberation Sans", Arial, sans-serif;font-size:47.3px;font-weight:bold;white-space:pre' fill="#000">Analysis of the driving mechanism of carbon capture capacity</text>
<rect x="236.4" y="1103.9" width="513.2" height="63.5" fill="#d3d3d3"/>
<rect x="236.4" y="1167.4" width="513.2" height="646.6" fill="#fff"/>
<rect x="236.4" y="1167.4" width="175.9" height="646.6" fill="#e8eff8"/>
<line x1="412.3" y1="1170.4" x2="412.3" y2="1814" stroke="#ababab" stroke-width="4" stroke-dasharray="52,13.7"/>
<rect x="236.4" y="1103.9" width="513.2" height="710.1" fill="none" stroke="#000" stroke-width="3.2"/>
<line x1="236.4" y1="1167.4" x2="749.6" y2="1167.4" stroke="#000" stroke-width="4"/>
<text x="421.25" y="1145.7" style='font-family:"Liberation Sans", Arial, sans-serif;font-size:42.7px;font-weight:bold;white-space:pre' fill="#000">Overall</text>
<line x1="260.8" y1="1814" x2="260.8" y2="1830.4" stroke="#000" stroke-width="3.6"/>
<line x1="411.8" y1="1814" x2="411.8" y2="1830.4" stroke="#000" stroke-width="3.6"/>
<line x1="562.8" y1="1814" x2="562.8" y2="1830.4" stroke="#000" stroke-width="3.6"/>
<line x1="713.8" y1="1814" x2="713.8" y2="1830.4" stroke="#000" stroke-width="3.6"/>
<rect x="786.4" y="1099.1" width="513.2" height="67.1" fill="#d3d3d3"/>
<rect x="786.4" y="1166.2" width="513.2" height="646.8" fill="#fff"/>
<rect x="786.4" y="1166.2" width="176.1" height="646.8" fill="#e8eff8"/>
<line x1="962.5" y1="1169.2" x2="962.5" y2="1813" stroke="#ababab" stroke-width="4" stroke-dasharray="52,13.7"/>
<rect x="786.4" y="1099.1" width="513.2" height="713.9" fill="none" stroke="#000" stroke-width="3.2"/>
<line x1="786.4" y1="1166.2" x2="1299.6" y2="1166.2" stroke="#000" stroke-width="4"/>
<text x="822.54" y="1143.4" style='font-family:"Liberation Sans", Arial, sans-serif;font-size:42.7px;font-weight:bold;white-space:pre' fill="#000">Low-capture capacity</text>
<line x1="810.66" y1="1813" x2="810.66" y2="1830.4" stroke="#000" stroke-width="3.6"/>
<line x1="961.6" y1="1813" x2="961.6" y2="1830.4" stroke="#000" stroke-width="3.6"/>
<line x1="1112.54" y1="1813" x2="1112.54" y2="1830.4" stroke="#000" stroke-width="3.6"/>
<line x1="1263.48" y1="1813" x2="1263.48" y2="1830.4" stroke="#000" stroke-width="3.6"/>
<rect x="1335.5" y="1099.5" width="513.5" height="68.1" fill="#d3d3d3"/>
<rect x="1335.5" y="1167.6" width="513.5" height="645.6" fill="#fff"/>
<rect x="1335.5" y="1167.6" width="176.7" height="645.6" fill="#e8eff8"/>
<line x1="1512.2" y1="1170.6" x2="1512.2" y2="1813.2" stroke="#ababab" stroke-width="4" stroke-dasharray="52,13.7"/>
<rect x="1335.5" y="1099.5" width="513.5" height="713.7" fill="none" stroke="#000" stroke-width="3.2"/>
<line x1="1335.5" y1="1167.6" x2="1849" y2="1167.6" stroke="#000" stroke-width="4"/>
<text x="1372.54" y="1143.4" style='font-family:"Liberation Sans", Arial, sans-serif;font-size:42.7px;font-weight:bold;white-space:pre' fill="#000">High-capture capacity</text>
<line x1="1361.1" y1="1813.2" x2="1361.1" y2="1830.4" stroke="#000" stroke-width="3.6"/>
<line x1="1511.8" y1="1813.2" x2="1511.8" y2="1830.4" stroke="#000" stroke-width="3.6"/>
<line x1="1662.5" y1="1813.2" x2="1662.5" y2="1830.4" stroke="#000" stroke-width="3.6"/>
<line x1="1813.2" y1="1813.2" x2="1813.2" y2="1830.4" stroke="#000" stroke-width="3.6"/>
<text x="241.91" y="1867.48" style='font-family:"Liberation Sans", Arial, sans-serif;font-size:42.5px;font-weight:normal;white-space:pre' fill="#000">-2</text>
<text x="400.64" y="1867.48" style='font-family:"Liberation Sans", Arial, sans-serif;font-size:42.5px;font-weight:normal;white-space:pre' fill="#000">0</text>
<text x="551.36" y="1867.48" style='font-family:"Liberation Sans", Arial, sans-serif;font-size:42.5px;font-weight:normal;white-space:pre' fill="#000">2</text>
<text x="702.32" y="1867.04" style='font-family:"Liberation Sans", Arial, sans-serif;font-size:42.5px;font-weight:normal;white-space:pre' fill="#000">4</text>
<text x="791.61" y="1867.48" style='font-family:"Liberation Sans", Arial, sans-serif;font-size:42.5px;font-weight:normal;white-space:pre' fill="#000">-2</text>
<text x="949.74" y="1867.48" style='font-family:"Liberation Sans", Arial, sans-serif;font-size:42.5px;font-weight:normal;white-space:pre' fill="#000">0</text>
<text x="1100.16" y="1867.48" style='font-family:"Liberation Sans", Arial, sans-serif;font-size:42.5px;font-weight:normal;white-space:pre' fill="#000">2</text>
<text x="1252.22" y="1867.04" style='font-family:"Liberation Sans", Arial, sans-serif;font-size:42.5px;font-weight:normal;white-space:pre' fill="#000">4</text>
<text x="1341.61" y="1867.48" style='font-family:"Liberation Sans", Arial, sans-serif;font-size:42.5px;font-weight:normal;white-space:pre' fill="#000">-2</text>
<text x="1499.44" y="1867.48" style='font-family:"Liberation Sans", Arial, sans-serif;font-size:42.5px;font-weight:normal;white-space:pre' fill="#000">0</text>
<text x="1650.56" y="1867.48" style='font-family:"Liberation Sans", Arial, sans-serif;font-size:42.5px;font-weight:normal;white-space:pre' fill="#000">2</text>
<text x="1801.22" y="1867.04" style='font-family:"Liberation Sans", Arial, sans-serif;font-size:42.5px;font-weight:normal;white-space:pre' fill="#000">4</text>
<line x1="218.4" y1="1273.3" x2="236" y2="1273.3" stroke="#b48bd0" stroke-width="3"/>
<line x1="218.4" y1="1489.8" x2="236" y2="1489.8" stroke="#000" stroke-width="3"/>
<line x1="218.4" y1="1706.2" x2="236" y2="1706.2" stroke="#000" stroke-width="3"/>
<text x="0" y="0" transform="translate(98.41,1287.3) scale(1.06,1)" style='font-family:"Liberation Sans", Arial, sans-serif;font-size:39px;font-weight:normal;white-space:pre' fill="#d59ff9">Policy</text>
<text x="0" y="0" transform="translate(68.21,1503.9) scale(1.06,1)" style='font-family:"Liberation Sans", Arial, sans-serif;font-size:39px;font-weight:normal;white-space:pre' fill="#0a84ff">Patents</text>
<text x="0" y="0" transform="translate(124.2,1719.6) scale(1.06,1)" style='font-family:"Liberation Sans", Arial, sans-serif;font-size:39px;font-weight:normal;white-space:pre' fill="#fbb55f">Cost</text>
<line x1="453.4" y1="1273.3" x2="524.1" y2="1273.3" stroke="#d59ff9" stroke-width="4"/>
<line x1="453.4" y1="1262.8" x2="453.4" y2="1283.8" stroke="#d59ff9" stroke-width="4" stroke-linecap="round"/>
<line x1="524.1" y1="1262.8" x2="524.1" y2="1283.8" stroke="#d59ff9" stroke-width="4" stroke-linecap="round"/>
<circle cx="488.3" cy="1273.3" r="13.6" fill="#d59ff9" stroke="none" stroke-width="0"/>
<circle cx="416.7" cy="1489.8" r="13.6" fill="#0a84ff" stroke="none" stroke-width="0"/>
<circle cx="413.2" cy="1706.2" r="13.6" fill="#fbb55f" stroke="none" stroke-width="0"/>
<line x1="1021" y1="1273.3" x2="1272.8" y2="1273.3" stroke="#d59ff9" stroke-width="4"/>
<line x1="1021" y1="1262.8" x2="1021" y2="1283.8" stroke="#d59ff9" stroke-width="4" stroke-linecap="round"/>
<line x1="1272.8" y1="1262.8" x2="1272.8" y2="1283.8" stroke="#d59ff9" stroke-width="4" stroke-linecap="round"/>
<circle cx="1147.2" cy="1273.3" r="13.6" fill="#d59ff9" stroke="none" stroke-width="0"/>
<circle cx="965.2" cy="1489.8" r="13.6" fill="#0a84ff" stroke="none" stroke-width="0"/>
<circle cx="958.3" cy="1706.1" r="13.6" fill="#fbb55f" stroke="none" stroke-width="0"/>
<line x1="1440.2" y1="1273.3" x2="1592.5" y2="1273.3" stroke="#d59ff9" stroke-width="4"/>
<line x1="1440.2" y1="1262.8" x2="1440.2" y2="1283.8" stroke="#d59ff9" stroke-width="4" stroke-linecap="round"/>
<line x1="1592.5" y1="1262.8" x2="1592.5" y2="1283.8" stroke="#d59ff9" stroke-width="4" stroke-linecap="round"/>
<circle cx="1516.1" cy="1273.3" r="13.6" fill="#d59ff9" stroke="none" stroke-width="0"/>
<circle cx="1519.5" cy="1489.8" r="13.6" fill="#0a84ff" stroke="none" stroke-width="0"/>
<line x1="1511.2" y1="1706.7" x2="1547.4" y2="1706.7" stroke="#fbb55f" stroke-width="4"/>
<line x1="1511.2" y1="1696.2" x2="1511.2" y2="1717.2" stroke="#fbb55f" stroke-width="4" stroke-linecap="round"/>
<line x1="1547.4" y1="1696.2" x2="1547.4" y2="1717.2" stroke="#fbb55f" stroke-width="4" stroke-linecap="round"/>
<circle cx="1528.6" cy="1706.7" r="13.6" fill="#fbb55f" stroke="none" stroke-width="0"/>
<text x="0" y="0" transform="translate(539.36,1290.19) scale(1,0.8)" style='font-family:"Liberation Sans", Arial, sans-serif;font-size:39.5px;font-weight:normal' fill="#000">***</text>
<text x="0" y="0" transform="translate(450.66,1506.69) scale(1,0.8)" style='font-family:"Liberation Sans", Arial, sans-serif;font-size:39.5px;font-weight:normal' fill="#000">***</text>
<text x="0" y="0" transform="translate(965.96,1291.69) scale(1,0.8)" style='font-family:"Liberation Sans", Arial, sans-serif;font-size:39.5px;font-weight:normal' fill="#000">**</text>
<text x="0" y="0" transform="translate(995.06,1503.39) scale(1,0.8)" style='font-family:"Liberation Sans", Arial, sans-serif;font-size:39.5px;font-weight:normal' fill="#000">***</text>
<text x="0" y="0" transform="translate(1549.06,1504.39) scale(1,0.8)" style='font-family:"Liberation Sans", Arial, sans-serif;font-size:39.5px;font-weight:normal' fill="#000">**</text>
<text x="0" y="0" transform="translate(1564.16,1725.49) scale(1,0.8)" style='font-family:"Liberation Sans", Arial, sans-serif;font-size:39.5px;font-weight:normal' fill="#000">***</text>
<text x="584.53" y="1783.19" style='font-family:"Liberation Serif", "Noto Serif CJK SC", serif;font-size:38.2px;font-weight:normal;white-space:pre' fill="#000">（</text>
<text x="686.97" y="1783.19" style='font-family:"Liberation Serif", "Noto Serif CJK SC", serif;font-size:38.2px;font-weight:normal;white-space:pre' fill="#000">）</text>
<text x="0" y="0" transform="translate(628.02,1778.73) scale(0.86,1)" style='font-family:"Liberation Sans", Arial, sans-serif;font-size:40.6px;font-weight:normal;white-space:pre' fill="#000">147</text>
<text x="1148.13" y="1789.19" style='font-family:"Liberation Serif", "Noto Serif CJK SC", serif;font-size:38.2px;font-weight:normal;white-space:pre' fill="#000">（</text>
<text x="1248.77" y="1789.19" style='font-family:"Liberation Serif", "Noto Serif CJK SC", serif;font-size:38.2px;font-weight:normal;white-space:pre' fill="#000">）</text>
<text x="0" y="0" transform="translate(1189.21,1785.15) scale(0.86,1)" style='font-family:"Liberation Sans", Arial, sans-serif;font-size:40.6px;font-weight:normal;white-space:pre' fill="#000">106</text>
<text x="1732.33" y="1791.39" style='font-family:"Liberation Serif", "Noto Serif CJK SC", serif;font-size:38.2px;font-weight:normal;white-space:pre' fill="#000">（</text>
<text x="1813.97" y="1791.39" style='font-family:"Liberation Serif", "Noto Serif CJK SC", serif;font-size:38.2px;font-weight:normal;white-space:pre' fill="#000">）</text>
<text x="0" y="0" transform="translate(1772.08,1786.93) scale(0.86,1)" style='font-family:"Liberation Sans", Arial, sans-serif;font-size:40.6px;font-weight:normal;white-space:pre' fill="#000">41</text>
<text x="1865.18" y="1821.8" style='font-family:"Liberation Sans", Arial, sans-serif;font-size:31.7px;font-weight:bold;white-space:pre' fill="#000">Le5</text>
</svg>
</body></html>
